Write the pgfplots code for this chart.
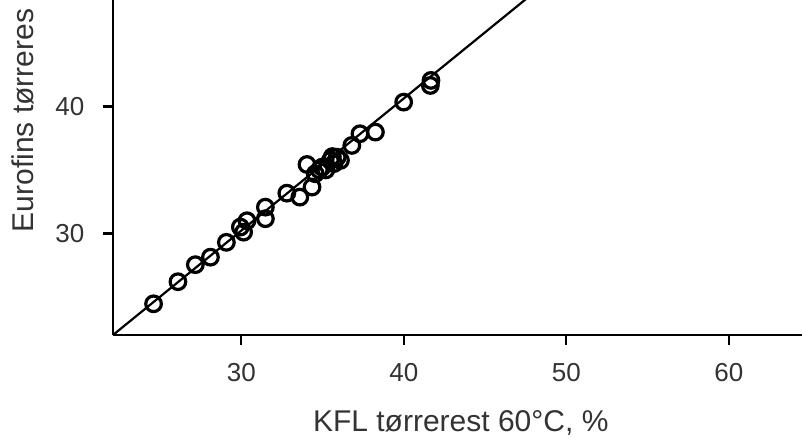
\documentclass[border=0pt]{standalone}
\usepackage{fontspec}
\setmainfont{Liberation Sans}
\usepackage{pgfplots}
\pgfplotsset{compat=1.18}

\definecolor{txt}{HTML}{333333}

\begin{document}
\begin{tikzpicture}
\begin{axis}[
  x=8.125pt, y=6.35pt,
  xmin=22.1, xmax=66, ymin=22, ymax=50,
  axis x line=bottom, axis y line=left,
  axis line style={-, line width=1.1pt},
  xtick={30,40,50,60}, ytick={30,40},
  tick align=outside, major tick length=4.8pt,
  tick style={line width=1.1pt, black},
  ticklabel style={font=\fontsize{13}{15}\selectfont, text=txt},
  /pgf/number format/assume math mode=true,
  xticklabel style={yshift=-6pt},
  yticklabel style={xshift=-6pt},
  xlabel={KFL tørrerest 60°C, \%},
  ylabel={Eurofins tørreres},
  label style={font=\fontsize{15}{17}\selectfont, text=txt},
  xlabel style={at={(axis description cs:0.4875,0)}, anchor=north, yshift=-34pt},
  ylabel style={at={(axis description cs:-0.126,0.603)}, anchor=center},
  clip=true,
]
\addplot[black, line width=1.1pt] coordinates {(22.1,22.0) (49.0,50.0)};
\addplot[only marks, mark=o, mark size=3.9pt, mark options={line width=1.6pt, black}] coordinates {
  (24.6,24.46) (26.1,26.2) (27.17,27.54) (28.1,28.13) (29.08,29.3)
  (29.94,30.5) (30.14,30.1) (30.35,31.0) (31.48,32.07) (31.48,31.16)
  (32.8,33.17) (33.6,32.86) (34.04,35.43) (34.35,33.65) (34.55,34.7)
  (34.97,35.22) (35.48,35.75) (35.9,36.0) (36.1,35.75) (35.7,35.5)
  (35.2,35.0) (35.6,36.05) (34.8,35.0) (36.8,36.93) (37.3,37.85)
  (38.25,37.98) (39.99,40.34) (41.63,41.65) (41.67,42.05)
};
\coordinate (bbl) at (axis cs:15.15,13.73);
\coordinate (btr) at (axis cs:64.5,48.38);
\end{axis}
\pgfresetboundingbox
\useasboundingbox (bbl) rectangle (btr);
\end{tikzpicture}
\end{document}
